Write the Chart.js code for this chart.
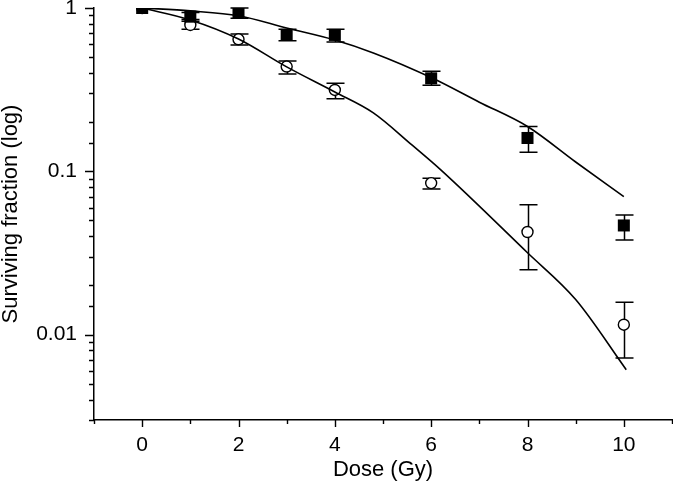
<!DOCTYPE html>
<html>
<head>
<meta charset="utf-8">
<script src="https://cdn.jsdelivr.net/npm/chart.js@4/dist/chart.umd.min.js"></script>
<style>
  html, body { margin: 0; padding: 0; background: #fff; }
  #wrap { width: 673px; height: 490px; }
</style>
</head>
<body>
<div id="wrap"><canvas id="chart" width="673" height="490"></canvas></div>
<script>
// measured points (filled squares / open circles)
const doses = [0, 1, 2, 3, 4, 6, 8, 10];
const squareVals = [1.0, 0.885, 0.936, 0.684, 0.684, 0.371, 0.16, 0.0466];
const squareHi = [1.0, 0.94, 1.0, 0.74, 0.74, 0.41, 0.188, 0.054];
const squareLo = [1.0, 0.83, 0.865, 0.63, 0.62, 0.337, 0.131, 0.038];
const circleVals = [1.0, 0.787, 0.643, 0.438, 0.315, 0.0847, 0.0425, 0.0115];
const circleHi = [1.0, 0.85, 0.693, 0.474, 0.346, 0.0908, 0.0624, 0.0158];
const circleLo = [1.0, 0.74, 0.594, 0.395, 0.278, 0.0778, 0.025, 0.0072];

// fitted curves
const fitUpperDose = [0, 1, 2, 3, 4, 4.8, 6, 7, 8, 9, 10];
const fitUpperVals = [1, 0.96, 0.897, 0.755, 0.637, 0.531, 0.375, 0.265, 0.188, 0.114, 0.070];
const fitLowerDose = [0, 1, 2, 3, 4, 4.8, 5.6, 6.2, 8, 9, 10.05];
const fitLowerVals = [1, 0.845, 0.646, 0.436, 0.306, 0.228, 0.145, 0.102, 0.0317, 0.0164, 0.0061];

const xTicks = [-1, 0, 1, 2, 3, 4, 5, 6, 7, 8, 9, 10, 11];
const xLabels = ['', '0', '', '2', '', '4', '', '6', '', '8', '', '10', ''];
const yLabelled = [1, 0.1, 0.01];

const FONT = 'Liberation Sans, Arial, Helvetica, sans-serif';

function pts(xs, ys) {
  return xs.map((x, i) => ({ x, y: ys[i] }));
}

const errorBars = {
  id: 'errorBars',
  beforeDatasetsDraw(chart) {
    const { ctx, scales: { x, y } } = chart;
    ctx.save();
    ctx.strokeStyle = '#000';
    ctx.lineWidth = 1.5;
    const sets = [[squareHi, squareLo], [circleHi, circleLo]];
    for (const [hi, lo] of sets) {
      doses.forEach((d, i) => {
        if (hi[i] === lo[i]) return;
        const px = Math.round(x.getPixelForValue(d)) + 0.5;
        const top = y.getPixelForValue(hi[i]);
        const bot = y.getPixelForValue(lo[i]);
        ctx.beginPath();
        ctx.moveTo(px, top); ctx.lineTo(px, bot);
        ctx.moveTo(px - 9, top); ctx.lineTo(px + 9, top);
        ctx.moveTo(px - 9, bot); ctx.lineTo(px + 9, bot);
        ctx.stroke();
      });
    }
    ctx.restore();
  },
};

// tick marks: long at decades / even doses, short otherwise
const axisTicks = {
  id: 'axisTicks',
  afterDraw(chart) {
    const { ctx, scales: { x, y } } = chart;
    ctx.save();
    ctx.strokeStyle = '#000';
    ctx.lineWidth = 1.4;
    ctx.beginPath();
    for (const t of y.ticks) {
      const lg = Math.log10(t.value);
      const major = Math.abs(lg - Math.round(lg)) < 1e-6;
      const py = Math.round(y.getPixelForValue(t.value)) + 0.5;
      ctx.moveTo(y.right - (major ? 9 : 5), py);
      ctx.lineTo(y.right, py);
    }
    for (const t of x.ticks) {
      const major = t.value % 2 === 0;
      const px = Math.round(x.getPixelForValue(t.value)) + 0.5;
      ctx.moveTo(px, x.top);
      ctx.lineTo(px, x.top + (major ? 7 : 4));
    }
    ctx.stroke();
    ctx.restore();
  },
};

new Chart(document.getElementById('chart'), {
  type: 'scatter',
  data: {
    datasets: [
      {
        label: 'fit upper',
        data: pts(fitUpperDose, fitUpperVals),
        showLine: true,
        borderColor: '#000',
        borderWidth: 1.6,
        pointRadius: 0,
        cubicInterpolationMode: 'monotone',
        order: 1,
      },
      {
        label: 'fit lower',
        data: pts(fitLowerDose, fitLowerVals),
        showLine: true,
        borderColor: '#000',
        borderWidth: 1.6,
        pointRadius: 0,
        cubicInterpolationMode: 'monotone',
        order: 1,
      },
      {
        label: 'circles',
        data: pts(doses, circleVals),
        pointStyle: 'circle',
        pointRadius: 5.5,
        borderWidth: 1.4,
        borderColor: '#000',
        backgroundColor: '#fff',
        order: 3,
      },
      {
        label: 'squares',
        data: pts(doses, squareVals),
        pointStyle: 'rect',
        pointRadius: 8.5,
        borderWidth: 0,
        borderColor: '#000',
        backgroundColor: '#000',
        order: 2,
      },
    ],
  },
  options: {
    responsive: false,
    devicePixelRatio: 1,
    animation: false,
    events: [],
    layout: { autoPadding: false, padding: { left: 0, right: 1, top: 8, bottom: 9 } },
    plugins: { legend: { display: false }, tooltip: { enabled: false } },
    scales: {
      x: {
        type: 'linear',
        min: -1,
        max: 11,
        afterBuildTicks: (scale) => { scale.ticks = xTicks.map((v) => ({ value: v })); },
        afterFit: (scale) => {
          scale.height = 61;
          scale.paddingLeft = 0;
          scale.paddingRight = 0;
        },
        border: { display: true, color: '#000', width: 1.5 },
        grid: { display: true, drawOnChartArea: false, color: 'transparent', tickLength: 15 },
        ticks: {
          autoSkip: false,
          maxRotation: 0,
          padding: 0,
          color: '#000',
          font: { family: FONT, size: 21, lineHeight: 1 },
          callback: (v) => xLabels[xTicks.indexOf(v)] ?? '',
        },
        title: {
          display: true,
          text: 'Dose (Gy)',
          color: '#000',
          font: { family: FONT, size: 22, lineHeight: 1 },
          padding: { top: 3, bottom: 0 },
        },
      },
      y: {
        type: 'logarithmic',
        min: 0.003,
        max: 1,
        afterFit: (scale) => {
          scale.width = 94;
          scale.paddingTop = 0;
          scale.paddingBottom = 0;
        },
        border: { display: true, color: '#000', width: 1.5 },
        grid: { display: true, drawOnChartArea: false, color: 'transparent', tickLength: 9 },
        ticks: {
          autoSkip: false,
          padding: 8,
          color: '#000',
          font: { family: FONT, size: 21, lineHeight: 1 },
          callback: (v) => (yLabelled.some((p) => Math.abs(p - v) < 1e-9) ? String(v) : ''),
        },
        title: {
          display: true,
          text: 'Surviving fraction (log)',
          color: '#000',
          font: { family: FONT, size: 22, lineHeight: 1 },
          padding: { top: 0, bottom: 11 },
        },
      },
    },
  },
  plugins: [errorBars, axisTicks],
});
</script>
</body>
</html>
